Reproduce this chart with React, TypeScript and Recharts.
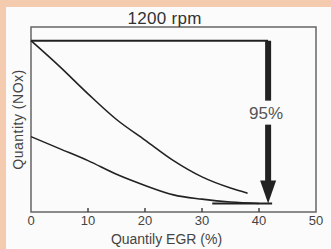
import { ComposedChart, Line, XAxis, YAxis, ReferenceArea, ReferenceLine, ReferenceDot } from 'recharts'

const X_TICKS = [0, 10, 20, 30, 40, 50]
const NOX_HIGH = [
  { egr: 0, nox: 100 },
  { egr: 5, nox: 85 },
  { egr: 10, nox: 69 },
  { egr: 15, nox: 54 },
  { egr: 20, nox: 42 },
  { egr: 25, nox: 30 },
  { egr: 30, nox: 20.5 },
  { egr: 35, nox: 14 },
  { egr: 38, nox: 11 },
]
const NOX_LOW = [
  { egr: 0, nox: 44 },
  { egr: 5, nox: 37 },
  { egr: 10, nox: 30 },
  { egr: 15, nox: 22 },
  { egr: 20, nox: 15.5 },
  { egr: 25, nox: 10 },
  { egr: 30, nox: 7.5 },
  { egr: 35, nox: 5.8 },
  { egr: 40, nox: 5 },
]
const START_LEVEL = [
  { egr: 0, nox: 100 },
  { egr: 41.6, nox: 100 },
]
const END_LEVEL = [
  { egr: 31.8, nox: 5 },
  { egr: 42.3, nox: 5 },
]
const ARROW_X = 41.6
const REDUCTION_LABEL = '95%'

const INK = '#222'
const FONT = 'Liberation Sans, Arial, sans-serif'

function InnerTick(props: any) {
  const { x, y, payload } = props
  const inner = payload.value > 0 && payload.value < 50
  return (
    <g>
      {inner && <line x1={x} x2={x} y1={y} y2={y - 4} stroke="#444" strokeWidth={1.5} />}
      <text x={x} y={y} dy={13} textAnchor="middle" fontSize={13} fill="#444" fontFamily={FONT}>
        {payload.value}
      </text>
    </g>
  )
}

function ArrowHead(props: any) {
  const { cx, cy } = props
  return <polygon points={`${cx - 8},${cy - 23} ${cx + 8},${cy - 23} ${cx},${cy}`} fill={INK} />
}

function PercentLabel(props: any) {
  const { cx, cy } = props
  return (
    <g>
      <rect x={cx - 19} y={cy - 12} width={36} height={24} fill="#fbfbfb" />
      <text x={cx - 2} y={cy} dy={6} textAnchor="middle" fontSize={17} fill="#555" fontFamily={FONT}>
        {REDUCTION_LABEL}
      </text>
    </g>
  )
}

export default function App() {
  return (
    <div style={{ position: 'absolute', left: 0, top: 0, width: 331, height: 249, background: '#f5cbb0', fontFamily: FONT }}>
      <div style={{ position: 'absolute', left: 6, top: 7, right: 0, bottom: 0, background: '#fbfbfb' }} />
      <div style={{ position: 'absolute', left: 0, top: 0 }}>
        <ComposedChart width={331} height={249} margin={{ top: 7, right: 15, bottom: 7, left: 6 }}>
          <XAxis
            xAxisId="b"
            type="number"
            dataKey="egr"
            domain={[0, 50]}
            ticks={X_TICKS}
            axisLine={false}
            tickLine={false}
            tickSize={0}
            tickMargin={0}
            tick={<InnerTick />}
            height={30}
            label={{ value: 'Quantily EGR (%)', position: 'insideBottom', offset: -2, dx: -7, fontSize: 14, fill: '#444' }}
          />
          <XAxis
            xAxisId="t"
            orientation="top"
            type="number"
            domain={[0, 50]}
            tick={false}
            axisLine={false}
            tickLine={false}
            height={20}
            label={{ value: '1200 rpm', position: 'center', dx: -9, dy: 1, fontSize: 17, letterSpacing: 0.3, fill: '#333' }}
          />
          <YAxis
            type="number"
            domain={[0, 108]}
            tick={false}
            axisLine={false}
            tickLine={false}
            width={25}
            label={{ value: 'Quantity (NOx)', angle: -90, position: 'center', fontSize: 14, letterSpacing: 0.5, fill: '#444' }}
          />
          <ReferenceArea xAxisId="b" x1={0} x2={50} y1={0} y2={108} fill="none" stroke="#666" strokeWidth={1.5} ifOverflow="visible" />
          <Line xAxisId="b" data={NOX_HIGH} dataKey="nox" type="monotone" stroke={INK} strokeWidth={1.6} dot={false} isAnimationActive={false} />
          <Line xAxisId="b" data={NOX_LOW} dataKey="nox" type="monotone" stroke={INK} strokeWidth={1.6} dot={false} isAnimationActive={false} />
          <Line xAxisId="b" data={START_LEVEL} dataKey="nox" stroke={INK} strokeWidth={2} dot={false} isAnimationActive={false} />
          <Line xAxisId="b" data={END_LEVEL} dataKey="nox" stroke={INK} strokeWidth={2} dot={false} isAnimationActive={false} />
          <ReferenceLine xAxisId="b" segment={[{ x: ARROW_X, y: 100 }, { x: ARROW_X, y: 15 }]} stroke={INK} strokeWidth={6} />
          <ReferenceDot xAxisId="b" x={ARROW_X} y={5} r={1} shape={<ArrowHead />} />
          <ReferenceDot xAxisId="b" x={ARROW_X} y={58} r={1} shape={<PercentLabel />} />
        </ComposedChart>
      </div>
    </div>
  )
}
